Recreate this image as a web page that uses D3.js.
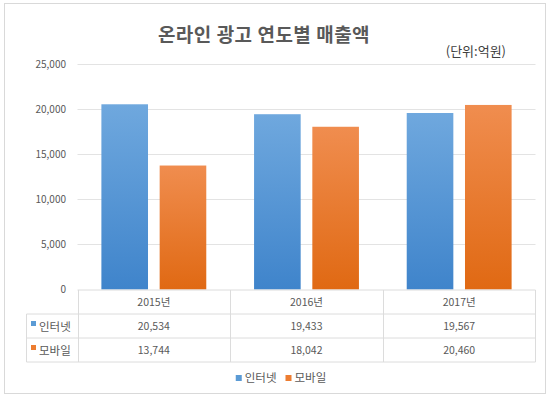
<!DOCTYPE html>
<html>
<head>
<meta charset="utf-8">
<script src="https://cdn.jsdelivr.net/npm/d3@7"></script>
<style>
  body { margin: 0; background: #fff; }
  text { font-family: "Noto Sans CJK KR", "Noto Sans", sans-serif; }
</style>
</head>
<body>
<div id="chart"></div>
<script>
// data
var years = ['2015년', '2016년', '2017년'];
var seriesNames = ['인터넷', '모바일'];
var internet = [20534, 19433, 19567];
var mobile = [13744, 18042, 20460];
var yTicks = [0, 5000, 10000, 15000, 20000, 25000];
var colors = ['#5b9bd5', '#ed7d31'];
var colorsTop = ['#6fa8de', '#f08d4f'];
var colorsBottom = ['#3f84cb', '#e06913'];

var width = 550, height = 397;
var plotLeft = 77.5, plotRight = 535.5, plotTop = 64, plotBottom = 289.5;
var rowH = 24;

var svg = d3.select('#chart').append('svg')
    .attr('width', width)
    .attr('height', height);

svg.append('rect')
    .attr('x', 0).attr('y', 0)
    .attr('width', width).attr('height', height)
    .attr('fill', '#fff');

svg.append('rect')
    .attr('x', 4.5).attr('y', 3.5)
    .attr('width', 541).attr('height', 390)
    .attr('fill', 'none')
    .attr('stroke', '#d9d9d9');

var defs = svg.append('defs');
seriesNames.forEach(function (s, i) {
    var g = defs.append('linearGradient')
        .attr('id', 'grad' + i)
        .attr('x1', 0).attr('y1', 0).attr('x2', 0).attr('y2', 1);
    g.append('stop').attr('offset', '0%').attr('stop-color', colorsTop[i]);
    g.append('stop').attr('offset', '100%').attr('stop-color', colorsBottom[i]);
});

// title
svg.append('text')
    .attr('x', 264).attr('y', 42)
    .attr('text-anchor', 'middle')
    .style('font-size', '19px')
    .style('font-weight', 'bold')
    .style('letter-spacing', '0.5px')
    .attr('fill', '#595959')
    .text('온라인 광고 연도별 매출액');

svg.append('text')
    .attr('x', 506).attr('y', 56)
    .attr('text-anchor', 'end')
    .style('font-size', '13px')
    .attr('fill', '#404040')
    .text('(단위:억원)');

var y = d3.scaleLinear()
    .domain([0, 25000])
    .range([plotBottom, plotTop]);

var x = d3.scaleBand()
    .domain(years)
    .range([plotLeft, plotRight]);

var xs = d3.scaleBand()
    .domain(seriesNames)
    .range([0, x.bandwidth()])
    .paddingInner(0.2)
    .paddingOuter(0.41);

// gridlines
svg.append('g').selectAll('line')
    .data(yTicks.filter(function (d) { return d > 0; }))
    .enter().append('line')
    .attr('x1', plotLeft).attr('x2', plotRight)
    .attr('y1', function (d) { return Math.round(y(d)) + 0.5; })
    .attr('y2', function (d) { return Math.round(y(d)) + 0.5; })
    .attr('stroke', '#e3e3e3')
    .attr('stroke-width', 1);

// y axis labels
var yAxis = d3.axisLeft(y)
    .tickValues(yTicks)
    .tickSize(0)
    .tickPadding(0)
    .tickFormat(d3.format(','));
var ya = svg.append('g')
    .attr('transform', 'translate(66,0)')
    .call(yAxis);
ya.select('.domain').remove();
ya.selectAll('text')
    .style('font-size', '10px')
    .attr('fill', '#595959')
    .attr('font-family', null);

// bars
var values = [internet, mobile];
var barG = svg.append('g');
seriesNames.forEach(function (s, i) {
    barG.selectAll('.bar' + i)
        .data(years)
        .enter().append('rect')
        .attr('class', 'bar' + i)
        .attr('x', function (d) { return x(d) + xs(s); })
        .attr('width', xs.bandwidth())
        .attr('y', function (d, j) { return y(values[i][j]); })
        .attr('height', function (d, j) { return plotBottom - y(values[i][j]); })
        .attr('fill', 'url(#grad' + i + ')');
});

// data table
var tableTop = plotBottom + 0.5;
var labelLeft = 26.5;
var tG = svg.append('g');
var lineColor = '#dcdcdc';

// horizontal lines
tG.append('line')
    .attr('x1', plotLeft).attr('x2', plotRight)
    .attr('y1', tableTop).attr('y2', tableTop)
    .attr('stroke', lineColor);
[1, 2, 3].forEach(function (r) {
    tG.append('line')
        .attr('x1', labelLeft).attr('x2', plotRight)
        .attr('y1', tableTop + r * rowH).attr('y2', tableTop + r * rowH)
        .attr('stroke', lineColor);
});
// vertical lines
tG.append('line')
    .attr('x1', labelLeft).attr('x2', labelLeft)
    .attr('y1', tableTop + rowH).attr('y2', tableTop + 3 * rowH)
    .attr('stroke', lineColor);
years.concat(['end']).forEach(function (d, i) {
    var xx = i < years.length ? Math.round(x(d)) + 0.5 : plotRight;
    tG.append('line')
        .attr('x1', xx).attr('x2', xx)
        .attr('y1', tableTop).attr('y2', tableTop + 3 * rowH)
        .attr('stroke', lineColor);
});

// header
tG.selectAll('.hdr')
    .data(years)
    .enter().append('text')
    .attr('x', function (d) { return x(d) + x.bandwidth() / 2; })
    .attr('y', tableTop + rowH / 2 + 4)
    .attr('text-anchor', 'middle')
    .style('font-size', '10.5px')
    .attr('fill', '#595959')
    .text(function (d) { return d; });

var fmt = d3.format(',');
seriesNames.forEach(function (s, i) {
    var ry = tableTop + (i + 1) * rowH;
    tG.append('rect')
        .attr('x', 31).attr('y', ry + 7)
        .attr('width', 5).attr('height', 5)
        .attr('fill', colors[i]);
    tG.append('text')
        .attr('x', 39).attr('y', ry + rowH / 2 + 4.5)
        .style('font-size', '11.5px')
        .attr('fill', '#595959')
        .text(s);
    tG.selectAll('.val' + i)
        .data(years)
        .enter().append('text')
        .attr('x', function (d) { return x(d) + x.bandwidth() / 2; })
        .attr('y', ry + rowH / 2 + 4)
        .attr('text-anchor', 'middle')
        .style('font-size', '10.5px')
        .attr('fill', '#595959')
        .text(function (d, j) { return fmt(values[i][j]); });
});

// legend
var legend = svg.append('g');
var lx = 0;
seriesNames.forEach(function (s, i) {
    var item = legend.append('g').attr('transform', 'translate(' + lx + ',0)');
    item.append('rect')
        .attr('x', 0).attr('y', -7)
        .attr('width', 6).attr('height', 6)
        .attr('fill', colors[i]);
    var t = item.append('text')
        .attr('x', 9).attr('y', 0)
        .style('font-size', '11.5px')
        .attr('fill', '#595959')
        .text(s);
    lx += 9 + t.node().getComputedTextLength() + 9;
});
var legendW = lx - 9;
legend.attr('transform', 'translate(' + (281 - legendW / 2) + ',382)');
</script>
</body>
</html>
